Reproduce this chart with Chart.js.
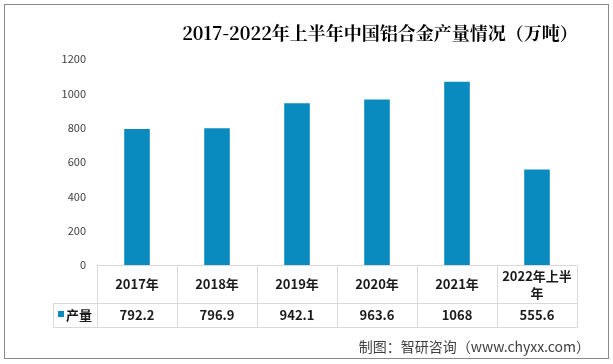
<!DOCTYPE html>
<html>
<head>
<meta charset="utf-8">
<script src="https://cdn.jsdelivr.net/npm/chart.js@4/dist/chart.umd.min.js"></script>
<style>
html,body{margin:0;padding:0;background:#fff;}
canvas{display:block;}
</style>
</head>
<body>
<canvas id="c" width="613" height="364"></canvas>
<script>
const categories = ["2017年", "2018年", "2019年", "2020年", "2021年", "2022年上半年"];
const headerLines = [["2017年"], ["2018年"], ["2019年"], ["2020年"], ["2021年"], ["2022年上半", "年"]];
const seriesName = "产量";
const values = [792.2, 796.9, 942.1, 963.6, 1068, 555.6];
const valueLabels = ["792.2", "796.9", "942.1", "963.6", "1068", "555.6"];
const titleText = "2017-2022年上半年中国铝合金产量情况（万吨）";
const sourceText = "制图：智研咨询（www.chyxx.com）";

const barColor = "#0A8BC0";
const cjk = '"Noto Sans CJK SC", "Noto Sans", sans-serif';

const decor = {
  id: "decor",
  afterDraw(chart) {
    const ctx = chart.ctx;
    const xs = chart.scales.x;
    const area = chart.chartArea;
    ctx.save();
    // outer border
    ctx.strokeStyle = "#8a8a8a";
    ctx.lineWidth = 1;
    ctx.strokeRect(4.5, 4.5, 604, 354);
    // title
    ctx.fillStyle = "#000";
    ctx.font = 'bold 18px "Noto Serif CJK SC", ' + cjk;
    ctx.textAlign = "center";
    ctx.textBaseline = "middle";
    ctx.fillText(titleText, 380, 33);
    // table
    const n = categories.length;
    const half = (xs.getPixelForValue(1) - xs.getPixelForValue(0)) / 2;
    const left = xs.getPixelForValue(0) - half;
    const right = xs.getPixelForValue(n - 1) + half;
    const top = area.bottom + 0.5;
    const mid = 303.5, bot = 327.5, legL = 53.5;
    ctx.strokeStyle = "#d9d9d9";
    ctx.beginPath();
    ctx.moveTo(left, top); ctx.lineTo(right, top);
    ctx.moveTo(legL, mid); ctx.lineTo(right, mid);
    ctx.moveTo(legL, bot); ctx.lineTo(right, bot);
    ctx.moveTo(legL, mid); ctx.lineTo(legL, bot);
    for (let i = 0; i <= n; i++) {
      const x = Math.round(left + i * 2 * half) + 0.5;
      ctx.moveTo(x, top); ctx.lineTo(x, bot);
    }
    ctx.stroke();
    ctx.fillStyle = "#1a1a1a";
    ctx.font = "bold 13px " + cjk;
    for (let i = 0; i < n; i++) {
      const cx = xs.getPixelForValue(i);
      const lines = headerLines[i];
      const cy = (top + mid) / 2;
      const lh = 17;
      lines.forEach((l, k) => {
        ctx.fillText(l, cx, cy + (k - (lines.length - 1) / 2) * lh);
      });
      ctx.fillText(valueLabels[i], cx, (mid + bot) / 2);
    }
    // legend cell
    ctx.fillStyle = barColor;
    ctx.fillRect(58, 311, 6, 6);
    ctx.fillStyle = "#1a1a1a";
    ctx.textAlign = "left";
    ctx.fillText(seriesName, 66, (mid + bot) / 2);
    // source
    ctx.fillStyle = "#404040";
    ctx.font = "14px " + cjk;
    ctx.textAlign = "right";
    ctx.fillText(sourceText, 590, 347);
    ctx.restore();
  }
};

new Chart(document.getElementById("c"), {
  type: "bar",
  data: {
    labels: categories,
    datasets: [{
      label: seriesName,
      data: values,
      backgroundColor: barColor,
      categoryPercentage: 1,
      barPercentage: 0.32
    }]
  },
  options: {
    responsive: false,
    animation: false,
    layout: { padding: { left: 0, right: 36, top: 59, bottom: 99 } },
    plugins: { legend: { display: false }, tooltip: { enabled: false }, title: { display: false } },
    scales: {
      x: { display: false },
      y: {
        min: 0, max: 1200,
        afterFit(s) { s.width = 97; },
        ticks: { stepSize: 200, color: "#404040", font: { size: 11, family: cjk }, padding: 11,
                 callback: v => String(v) },
        grid: { display: false, drawTicks: false },
        border: { display: false }
      }
    }
  },
  plugins: [decor]
});
</script>
</body>
</html>
